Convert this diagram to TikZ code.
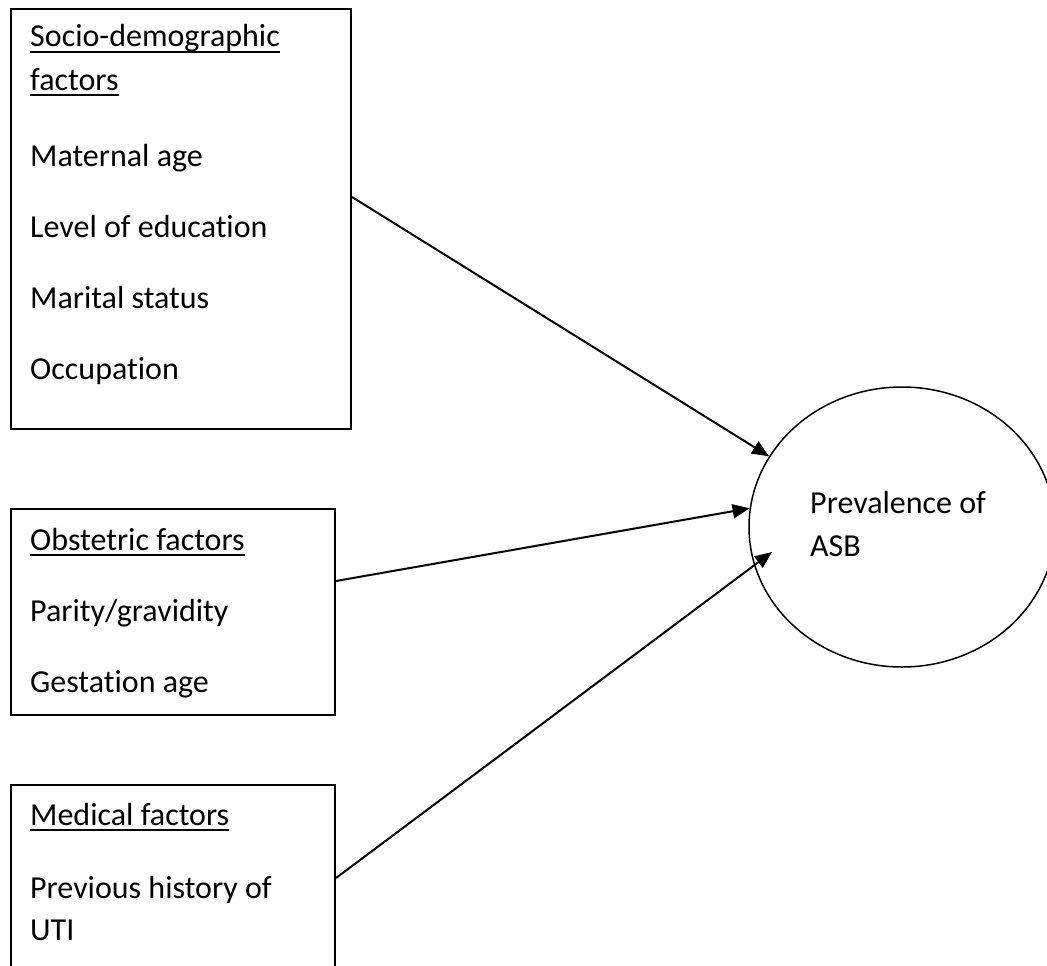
\documentclass[tikz,border=0pt]{standalone}
\usepackage{fontspec}
\setmainfont{Carlito}[Ligatures=NoCommon]
\usetikzlibrary{shapes.geometric,arrows.meta}
\begin{document}
\begin{tikzpicture}[x=1pt,y=-1pt,
  frame/.style={draw,line width=2pt,rectangle,inner sep=0pt,anchor=north west},
  txt/.style={anchor=base west,inner sep=0pt,font=\fontsize{32}{38}\selectfont},
  uline/.style={line width=2pt},
  arr/.style={line width=2pt,-{Triangle[length=17pt,width=14pt]}}]
\useasboundingbox (0,0) rectangle (1047,966);
\clip (0,0) rectangle (1047,966);
% boxes
\node[frame,minimum width=340pt,minimum height=420pt] (box1) at (10,8) {};
\node[frame,minimum width=324pt,minimum height=206pt] (box2) at (10,508) {};
\node[frame,minimum width=324pt,minimum height=260pt] (box3) at (10,784) {};
% outcome
\node[draw,ellipse,line width=1.5pt,minimum width=306pt,minimum height=280pt,inner sep=0pt] (ell) at (902,527) {};
% texts
\node[txt] (s1) at (30,47) {Socio-demographic};
\node[txt] (s2) at (30,90) {factors};
\node[txt] (s3) at (30,166) {Maternal age};
\node[txt] (s4) at (30,237) {Level of education};
\node[txt] (s5) at (30,308) {Marital status};
\node[txt] (s6) at (30,379) {Occupation};
\node[txt] (o1) at (30,550) {Obstetric factors};
\node[txt] (o2) at (30,621) {Parity/gravidity};
\node[txt] (o3) at (30,692) {Gestation age};
\node[txt] (m1) at (30,825) {Medical factors};
\node[txt] (m2) at (30,898) {Previous history of};
\node[txt] (m3) at (30,940) {UTI};
\node[txt] (p1) at (810,513) {Prevalence of};
\node[txt] (p2) at (810,556) {ASB};
% underlines
\foreach \n in {s1,s2,o1,m1}{
  \draw[uline] ([yshift=-5pt]\n.base west) -- ([yshift=-5pt]\n.base east);
}
% connectors
\coordinate (y1) at (0,197);
\coordinate (y2) at (0,581);
\coordinate (y3) at (0,878);
\coordinate (e3) at (772,552);
\draw[arr] (box1.east |- y1) -- (ell.152);
\draw[arr] (box2.east |- y2) -- (ell.173);
\draw[arr] (box3.east |- y3) -- (e3);
\end{tikzpicture}
\end{document}
